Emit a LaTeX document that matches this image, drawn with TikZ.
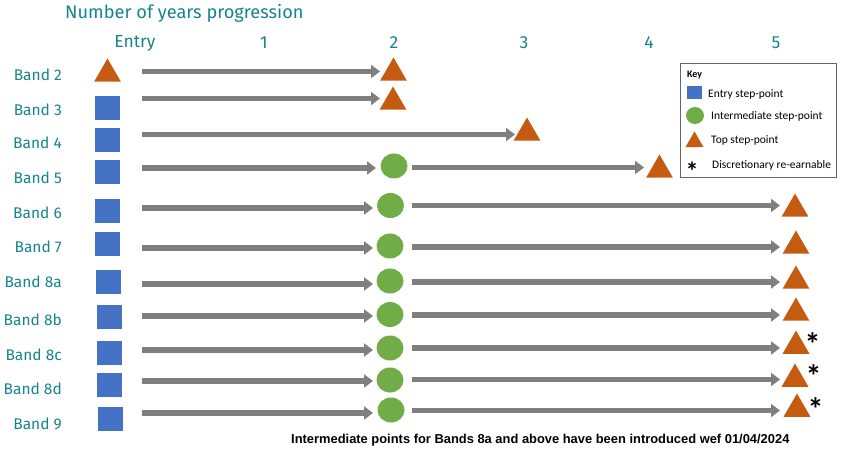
\documentclass[tikz,border=0pt]{standalone}
\usepackage{fontspec}
\setmainfont{Fira Sans}
\newfontfamily\keyfont{Carlito}
\newfontfamily\notefont{Liberation Sans}
\usetikzlibrary{shapes.geometric,arrows.meta}
\definecolor{teal1}{RGB}{22,132,140}
\definecolor{entryblue}{RGB}{68,114,196}
\definecolor{midgreen}{RGB}{112,173,71}
\definecolor{toporange}{RGB}{197,90,17}
\definecolor{arrgray}{RGB}{127,127,127}
\begin{document}
\begin{tikzpicture}[x=1pt,y=-1pt,
 sq/.style={fill=entryblue, minimum width=25pt, minimum height=24pt, inner sep=0pt, draw=none},
 mid/.style={ellipse, fill=midgreen, minimum width=27pt, minimum height=25pt, inner sep=0pt},
 top/.style={regular polygon, regular polygon sides=3, fill=toporange, minimum size=31pt, inner sep=0pt},
 arr/.style={draw=arrgray, line width=5.5pt, -{Triangle[length=9pt,width=13pt]}},
 band/.style={text=teal1, font=\fontsize{15.5}{18}\selectfont, anchor=east, inner sep=0pt},
 hdr/.style={text=teal1, font=\fontsize{17.5}{20}\selectfont, inner sep=0pt},
 keytxt/.style={font=\keyfont\fontsize{11.5}{13}\selectfont, anchor=west, inner sep=0pt},
 star/.style={font=\keyfont\bfseries\fontsize{32}{34}\selectfont, inner sep=0pt},
 ]
\useasboundingbox (0,0) rectangle (844,457);

% headings
\node[hdr, anchor=west, font=\fontsize{18.2}{21}\selectfont] (title) at (65,13) {Number of years progression};
\node[hdr] (hEntry) at (135,43) {Entry};
\node[hdr] (h1) at (264,43) {1};
\node[hdr] (h2) at (394,43) {2};
\node[hdr] (h3) at (524,43) {3};
\node[hdr] (h4) at (649,43) {4};
\node[hdr] (h5) at (776,43) {5};

% band labels
\node[band] (l2) at (62,75) {Band 2};
\node[band] (l3) at (62,110) {Band 3};
\node[band] (l4) at (62,143) {Band 4};
\node[band] (l5) at (62,178) {Band 5};
\node[band] (l6) at (62,213) {Band 6};
\node[band] (l7) at (62,247) {Band 7};
\node[band] (l8a) at (62,282) {Band 8a};
\node[band] (l8b) at (62,320) {Band 8b};
\node[band] (l8c) at (62,355) {Band 8c};
\node[band] (l8d) at (62,389) {Band 8d};
\node[band] (l9) at (62,424) {Band 9};

% entry points
\node[top] (e2) at (107.5,74) {};
\node[sq] (e3) at (107.5,108) {};
\node[sq] (e4) at (107.5,140) {};
\node[sq] (e5) at (107.5,172) {};
\node[sq] (e6) at (107.5,211) {};
\node[sq] (e7) at (107.5,244) {};
\node[sq] (e8a) at (108,282) {};
\node[sq] (e8b) at (109,317) {};
\node[sq] (e8c) at (109,353) {};
\node[sq] (e8d) at (109.5,385) {};
\node[sq] (e9) at (110,419) {};

% intermediate points
\node[mid] (c5) at (394,166) {};
\node[mid] (c6) at (390.5,205.5) {};
\node[mid] (c7) at (390,246) {};
\node[mid] (c8a) at (390,281) {};
\node[mid] (c8b) at (390,314.5) {};
\node[mid] (c8c) at (390,348) {};
\node[mid] (c8d) at (390,380) {};
\node[mid] (c9) at (391,410) {};

% top points
\node[top] (t2) at (393.5,73) {};
\node[top] (t3) at (393,102) {};
\node[top] (t4) at (527,133) {};
\node[top] (t5) at (659.5,170) {};
\node[top] (t6) at (795,209) {};
\node[top] (t7) at (796,246) {};
\node[top] (t8a) at (796,281) {};
\node[top] (t8b) at (796,313) {};
\node[top] (t8c) at (796,346) {};
\node[top] (t8d) at (795,379) {};
\node[top] (t9) at (797,409) {};

% asterisks
\node[star] (s8c) at (812.5,344.5) {*};
\node[star] (s8d) at (813.5,376.5) {*};
\node[star] (s9) at (815.5,409) {*};

% arrow end coordinates
\coordinate (a2s) at (142,71.5);  \coordinate (a2e) at (380,71.5);
\coordinate (a3s) at (142,98.5);  \coordinate (a3e) at (380,98.5);
\coordinate (a4s) at (142,134.5); \coordinate (a4e) at (515,134.5);
\coordinate (a5s) at (142,168);   \coordinate (a5e) at (376,168);
\coordinate (b5s) at (412,167.5); \coordinate (b5e) at (644,167.5);
\coordinate (a6s) at (142,208);   \coordinate (a6e) at (373,208);
\coordinate (b6s) at (412,205.5); \coordinate (b6e) at (780,205.5);
\coordinate (a7s) at (142,248);   \coordinate (a7e) at (373,248);
\coordinate (b7s) at (412,247);   \coordinate (b7e) at (780,247);
\coordinate (a8as) at (142,284);  \coordinate (a8ae) at (373,284);
\coordinate (b8as) at (412,282);  \coordinate (b8ae) at (780,282);
\coordinate (a8bs) at (142,316);  \coordinate (a8be) at (373,316);
\coordinate (b8bs) at (412,315);  \coordinate (b8be) at (780,315);
\coordinate (a8cs) at (142,350);  \coordinate (a8ce) at (373,350);
\coordinate (b8cs) at (412,348);  \coordinate (b8ce) at (780,348);
\coordinate (a8ds) at (142,381);  \coordinate (a8de) at (373,381);
\coordinate (b8ds) at (412,379.5);\coordinate (b8de) at (780,379.5);
\coordinate (a9s) at (142,413);   \coordinate (a9e) at (373,413);
\coordinate (b9s) at (412,410.5); \coordinate (b9e) at (780,410.5);

\foreach \n in {2,3,4,5,6,7,8a,8b,8c,8d,9} {\draw[arr] (a\n s) -- (a\n e);}
\foreach \n in {5,6,7,8a,8b,8c,8d,9} {\draw[arr] (b\n s) -- (b\n e);}

% key
\node[draw=black!60, line width=0.6pt, minimum width=156pt, minimum height=114pt, inner sep=0pt, anchor=north west] (keybox) at (680,63) {};
\node[font=\keyfont\bfseries\fontsize{10}{12}\selectfont, anchor=west, inner sep=0pt] (keyt) at (687,75) {Key};
\node[fill=entryblue, minimum width=15pt, minimum height=13pt, inner sep=0pt] (ksq) at (694.5,93) {};
\node[keytxt] (ksqt) at (708,94) {Entry step-point};
\node[ellipse, fill=midgreen, minimum width=18pt, minimum height=17pt, inner sep=0pt] (kc) at (695,115.5) {};
\node[keytxt] (kct) at (711,116) {Intermediate step-point};
\node[regular polygon, regular polygon sides=3, fill=toporange, minimum size=21pt, inner sep=0pt] (kt) at (694.5,142) {};
\node[keytxt] (ktt) at (711,140) {Top step-point};
\node[star, font=\keyfont\bfseries\fontsize{26}{28}\selectfont] (ks) at (692,171) {*};
\node[keytxt] (kst) at (712,165) {Discretionary re-earnable};

% note
\node[font=\notefont\bfseries\fontsize{12.9}{15}\selectfont, anchor=west, inner sep=0pt] (note) at (291,440) {Intermediate points for Bands 8a and above have been introduced wef 01/04/2024};
\end{tikzpicture}
\end{document}
